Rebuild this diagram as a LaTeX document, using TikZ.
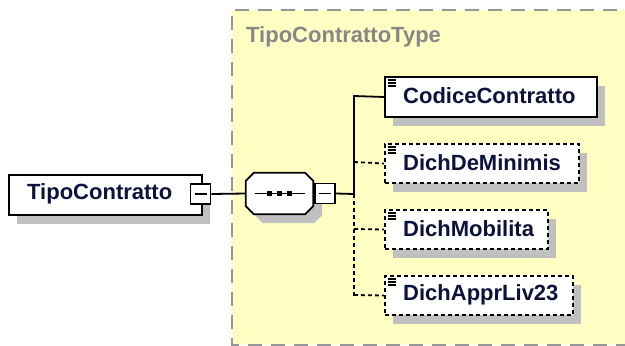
\documentclass[tikz,border=0pt]{standalone}
\usepackage{fontspec}
\setmainfont{Liberation Sans}
\usetikzlibrary{shadows}
\definecolor{ybg}{RGB}{255,255,196}
\definecolor{yborder}{RGB}{150,150,150}
\definecolor{shd}{RGB}{192,192,192}
\definecolor{txt}{RGB}{12,18,60}
\definecolor{gtxt}{RGB}{135,135,135}
\tikzset{
  shadowed/.style={drop shadow={shadow xshift=8pt,shadow yshift=-8.5pt,fill=shd,opacity=1}},
  elembox/.style={draw=black,line width=2pt,fill=white,rectangle,inner sep=0pt,anchor=north west,shadowed},
  optbox/.style={elembox,dash pattern=on 4pt off 3pt},
  lbl/.style={anchor=west,inner sep=0pt,text=txt,font=\fontsize{22}{25}\selectfont\bfseries},
  minusbox/.style={draw=black,line width=1.8pt,fill=white,rectangle,inner sep=0pt,minimum width=20pt,minimum height=20pt},
  conn/.style={line width=1.8pt,black},
  optconn/.style={conn,dash pattern=on 4pt off 3pt},
}
\newcommand{\docicon}[1]{%
  \foreach \dy in {4,7,10} {\draw[line width=1.3pt] ([xshift=4pt,yshift=-\dy pt]#1.north west) -- ++(8pt,0);}}
\newcommand{\octpath}[3]{% node, xshift, yshift
  ([xshift=#2+8pt,yshift=#3]#1.north west) -- ([xshift=#2-8pt,yshift=#3]#1.north east) --
  ([xshift=#2,yshift=#3-8pt]#1.north east) -- ([xshift=#2,yshift=#3+8pt]#1.south east) --
  ([xshift=#2-8pt,yshift=#3]#1.south east) -- ([xshift=#2+8pt,yshift=#3]#1.south west) --
  ([xshift=#2,yshift=#3+8pt]#1.south west) -- ([xshift=#2,yshift=#3-8pt]#1.north west) -- cycle}
\begin{document}
\begin{tikzpicture}[x=1pt,y=-1pt]
\useasboundingbox (0,0) rectangle (625,346);
% type container
\fill[ybg] (232,10) rectangle (640,345);
\draw[yborder,line width=2pt,dash pattern=on 14pt off 9pt] (640,10) -- (232,10) -- (232,345) -- (640,345);
\node[anchor=west,inner sep=0pt,text=gtxt,font=\fontsize{22}{25}\selectfont\bfseries] (typelbl) at (246,37) {TipoContrattoType};

% root element
\node[elembox,minimum width=193pt,minimum height=40pt] (root) at (8,174) {};
\node[lbl] (roottxt) at (27,194) {TipoContratto};
\node[minusbox] (rootminus) at (200.5,194) {};
\draw[conn] ([xshift=-6pt]rootminus.center) -- ([xshift=6pt]rootminus.center);

% sequence
\node[rectangle,inner sep=0pt,minimum width=67pt,minimum height=41pt] (seq) at (279.5,193.5) {};
\fill[shd] \octpath{seq}{9pt}{-9pt};
\draw[line width=1.8pt,fill=white] \octpath{seq}{0pt}{0pt};
\node[minusbox,anchor=west] (seqminus) at ([xshift=1pt]seq.east) {};
\draw[conn] ([xshift=-6pt]seqminus.center) -- ([xshift=6pt]seqminus.center);
\draw[conn] ([xshift=-25pt]seq.center) -- ([xshift=25pt]seq.center);
\foreach \dx in {-10,0,10} {\fill ([xshift=\dx pt]seq.center) ++(-2.5,-2.5) rectangle ++(5,5);}
\draw[conn] (rootminus.east) -- (seq.west);

% trunk
\coordinate (tb) at (354,194);
\coordinate (t1) at (354,96);
\coordinate (t2) at (354,162);
\coordinate (t3) at (354,229);
\coordinate (t4) at (354,295);
\draw[conn] (seqminus.east) -- (tb);
\draw[conn] ([yshift=1pt]t1) -- (tb);
\draw[optconn] (tb) -- ([yshift=-1pt]t4);

% children
\node[elembox,minimum width=212pt,minimum height=40pt] (c1) at (384,76) {};
\node[lbl] (c1t) at (403,96) {CodiceContratto};
\docicon{c1}
\node[optbox,minimum width=194pt,minimum height=39pt] (c2) at (384,143) {};
\node[lbl] (c2t) at (403,162.5) {DichDeMinimis};
\docicon{c2}
\node[optbox,minimum width=163pt,minimum height=39pt] (c3) at (384,209) {};
\node[lbl] (c3t) at (403,228.5) {DichMobilita};
\docicon{c3}
\node[optbox,minimum width=188pt,minimum height=39pt] (c4) at (384,275) {};
\node[lbl] (c4t) at (403,294.5) {DichApprLiv23};
\docicon{c4}

\draw[conn] (t1) -- (c1.west);
\draw[optconn] (t2) -- (c2.west);
\draw[optconn] (t3) -- (c3.west);
\draw[optconn] (t4) -- (c4.west);
\end{tikzpicture}
\end{document}
